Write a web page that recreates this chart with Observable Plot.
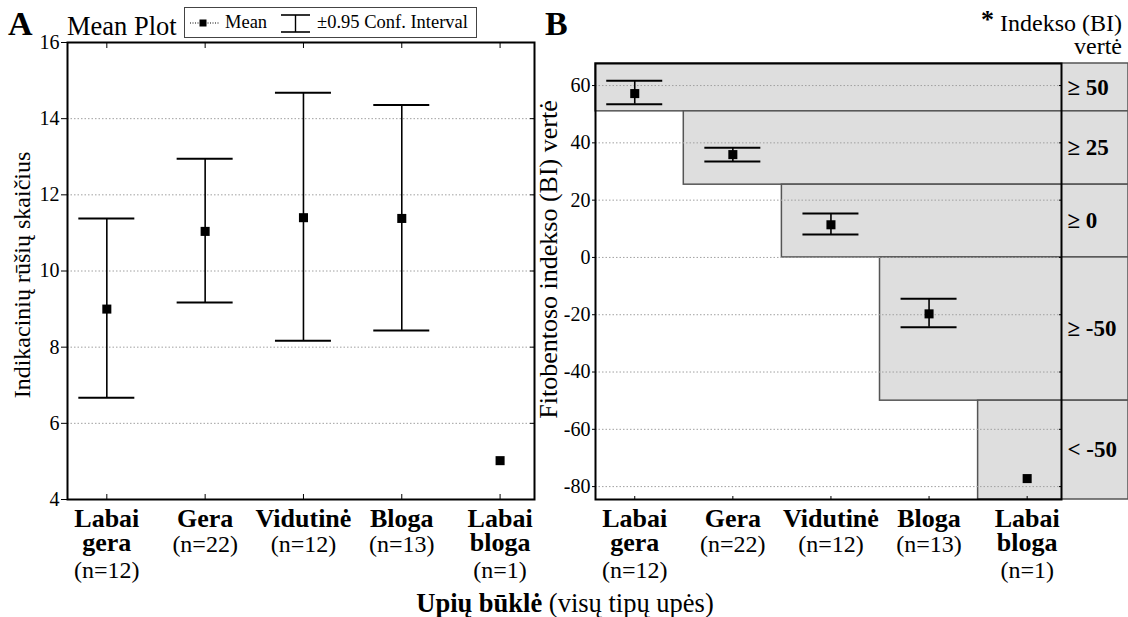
<!DOCTYPE html>
<html><head><meta charset="utf-8">
<script src="https://cdn.jsdelivr.net/npm/d3@7"></script>
<script src="https://cdn.jsdelivr.net/npm/@observablehq/plot@0.6"></script>
<style>
body{margin:0;background:#fff;}
#root{position:relative;width:1128px;height:617px;overflow:hidden;background:#fff;font-family:'Liberation Serif',serif;}
#root > svg{position:absolute;overflow:visible;}
#root svg text{font-family:'Liberation Serif',serif;}
</style></head>
<body><div id="root"></div>
<script>
// ---- shared categories ----
const categories = ["Labai\ngera", "Gera", "Vidutinė", "Bloga", "Labai\nbloga"];
const nLabels = ["(n=12)", "(n=22)", "(n=12)", "(n=13)", "(n=1)"];

// ---- Panel A: number of indicator species ----
const meanA = [9.0, 11.04, 11.4, 11.38, 5.02];
const ciLowA = [6.67, 9.17, 8.17, 8.44, null];
const ciHighA = [11.38, 12.95, 14.68, 14.36, null];
const yTicksA = [4, 6, 8, 10, 12, 14, 16];

// ---- Panel B: phytobenthos index (BI) ----
const meanB = [57.2, 35.9, 11.4, -19.7, -77.2];
const ciLowB = [53.5, 33.5, 8.0, -24.4, null];
const ciHighB = [61.7, 38.3, 15.3, -14.4, null];
const yTicksB = [-80, -60, -40, -20, 0, 20, 40, 60];

// ---- Panel B: index classes (shaded bands) ----
const classLabels = ["≥ 50", "≥ 25", "≥ 0", "≥ -50", "< -50"];
const classLow = [51, 25.4, 0, -50, -84.5];
const classHigh = [67.7, 51, 25.4, 0, -50];
const classStart = [-0.4, 0.5, 1.5, 2.5, 3.5];

const FONT = "'Liberation Serif', serif";
const idx = d3.range(categories.length);
const xDomain = [-0.4, 4.35];
const gridStyle = {stroke: "#a0a0a0", strokeOpacity: 1, strokeDasharray: "1.5,2", strokeWidth: 1};

function xLabelMarks() {
  return [
    Plot.text(idx, {x: i => i, text: i => categories[i], frameAnchor: "bottom", lineAnchor: "top",
      dy: 9.3, fontWeight: "bold", fontSize: 26, lineHeight: 0.96}),
    Plot.text(idx, {filter: i => !categories[i].includes("\n"), x: i => i, text: i => nLabels[i],
      frameAnchor: "bottom", lineAnchor: "bottom", dy: 52, fontSize: 24}),
    Plot.text(idx, {filter: i => categories[i].includes("\n"), x: i => i, text: i => nLabels[i],
      frameAnchor: "bottom", lineAnchor: "bottom", dy: 78, fontSize: 24})
  ];
}
function errorMarks(low, high, mean) {
  const ci = idx.filter(i => low[i] != null);
  return [
    Plot.ruleX(ci, {x: i => i, y1: i => low[i], y2: i => high[i], stroke: "black", strokeWidth: 1.6}),
    Plot.ruleY(ci, {x1: i => i, x2: i => i, y: i => low[i], insetLeft: -28, insetRight: -28, stroke: "black", strokeWidth: 2}),
    Plot.ruleY(ci, {x1: i => i, x2: i => i, y: i => high[i], insetLeft: -28, insetRight: -28, stroke: "black", strokeWidth: 2}),
    Plot.dot(idx, {x: i => i, y: i => mean[i], symbol: "square", r: 5.1, fill: "black", stroke: null})
  ];
}

const plotA = Plot.plot({
  width: 545, height: 617,
  marginLeft: 67, marginRight: 11, marginTop: 42, marginBottom: 118,
  x: {type: "linear", domain: xDomain},
  y: {domain: [4, 16]},
  style: {fontFamily: FONT, fontSize: "20px", color: "black", background: "transparent", overflow: "visible"},
  marks: [
    Plot.gridY(yTicksA, gridStyle),
    Plot.axisY(yTicksA, {anchor: "left", tickSize: 6, tickPadding: 2, label: null}),
    Plot.axisY(yTicksA, {anchor: "right", tickSize: 5, dx: -5, tickFormat: () => "", label: null}),
    Plot.axisX(idx, {anchor: "bottom", tickSize: 5, dy: -5, tickFormat: () => "", label: null}),
    Plot.axisX(idx, {anchor: "top", tickSize: 5, dy: 5, tickFormat: () => "", label: null}),
    Plot.frame({stroke: "black", strokeWidth: 2}),
    ...errorMarks(ciLowA, ciHighA, meanA),
    ...xLabelMarks(),
    Plot.text(["Indikacinių rūšių skaičius"], {frameAnchor: "left", textAnchor: "middle", lineAnchor: "middle", rotate: -90, dx: -45, dy: 4, fontSize: 24})
  ]
});
plotA.style.left = "0px"; plotA.style.top = "0px";

const classIdx = d3.range(classLabels.length);
const plotB = Plot.plot({
  width: 588, height: 617,
  marginLeft: 55, marginRight: 67, marginTop: 63, marginBottom: 118,
  x: {type: "linear", domain: xDomain},
  y: {domain: [-84.5, 67.7]},
  style: {fontFamily: FONT, fontSize: "20px", color: "black", background: "transparent", overflow: "visible"},
  marks: [
    Plot.rect(classIdx, {x1: i => classStart[i], x2: () => xDomain[1], y1: i => classLow[i], y2: i => classHigh[i],
      insetRight: -67, fill: "#dedede", stroke: "#555", strokeWidth: 1.5}),
    Plot.gridY(yTicksB, gridStyle),
    Plot.axisY(yTicksB, {anchor: "left", tickSize: 3, tickPadding: 2, label: null, tickFormat: d => String(d)}),
    Plot.axisY(yTicksB, {anchor: "right", tickSize: 3, dx: -3, tickFormat: () => "", label: null}),
    Plot.axisX(idx, {anchor: "bottom", tickSize: 3, dy: -3, tickFormat: () => "", label: null}),
    Plot.frame({stroke: "black", strokeWidth: 2}),
    ...errorMarks(ciLowB, ciHighB, meanB),
    Plot.text(classIdx, {x: () => xDomain[1], y: i => (classLow[i] + classHigh[i]) / 2, text: i => classLabels[i],
      textAnchor: "start", dx: 6, fontWeight: "bold", fontSize: 23}),
    ...xLabelMarks(),
    Plot.text(["Fitobentoso indekso (BI) vertė"], {frameAnchor: "left", textAnchor: "middle", lineAnchor: "middle", rotate: -90, dx: -47, dy: -22, fontSize: 26})
  ]
});
plotB.style.left = "540px"; plotB.style.top = "0px";

const root = document.getElementById("root");
root.appendChild(plotA);
root.appendChild(plotB);

// ---- titles, panel letters, legend (overlay) ----
const ns = "http://www.w3.org/2000/svg";
const ov = document.createElementNS(ns, "svg");
ov.setAttribute("width", 1128); ov.setAttribute("height", 617);
ov.style.left = "0px"; ov.style.top = "0px"; ov.style.pointerEvents = "none";
ov.innerHTML = `
  <g fill="black">
    <text x="8" y="35" font-size="34" font-weight="bold">A</text>
    <text x="67" y="35" font-size="26.5">Mean Plot</text>
    <rect x="184.5" y="7.5" width="292" height="30" fill="white" stroke="#444" stroke-width="1"/>
    <line x1="190" x2="220" y1="23" y2="23" stroke="black" stroke-width="1" stroke-dasharray="1,1.5"/>
    <rect x="199.5" y="19.5" width="7" height="7" fill="black"/>
    <text x="225" y="28" font-size="18.5">Mean</text>
    <line x1="281" x2="310" y1="15" y2="15" stroke="black" stroke-width="1.6"/>
    <line x1="281" x2="310" y1="32" y2="32" stroke="black" stroke-width="1.6"/>
    <line x1="295.5" x2="295.5" y1="15" y2="32" stroke="black" stroke-width="1.4"/>
    <text x="317" y="28" font-size="18.5">±0.95 Conf. Interval</text>
    <text x="545" y="35" font-size="34" font-weight="bold">B</text>
    <text x="1122" y="31" font-size="24" text-anchor="end"><tspan font-weight="bold" font-size="26" dy="-3">*</tspan><tspan dy="3"> Indekso (BI)</tspan></text>
    <text x="1122" y="54" font-size="24" text-anchor="end">vertė</text>
    <text x="565" y="612" font-size="26.5" text-anchor="middle"><tspan font-weight="bold">Upių būklė</tspan> (visų tipų upės)</text>
  </g>`;
root.appendChild(ov);
</script>
</body></html>
